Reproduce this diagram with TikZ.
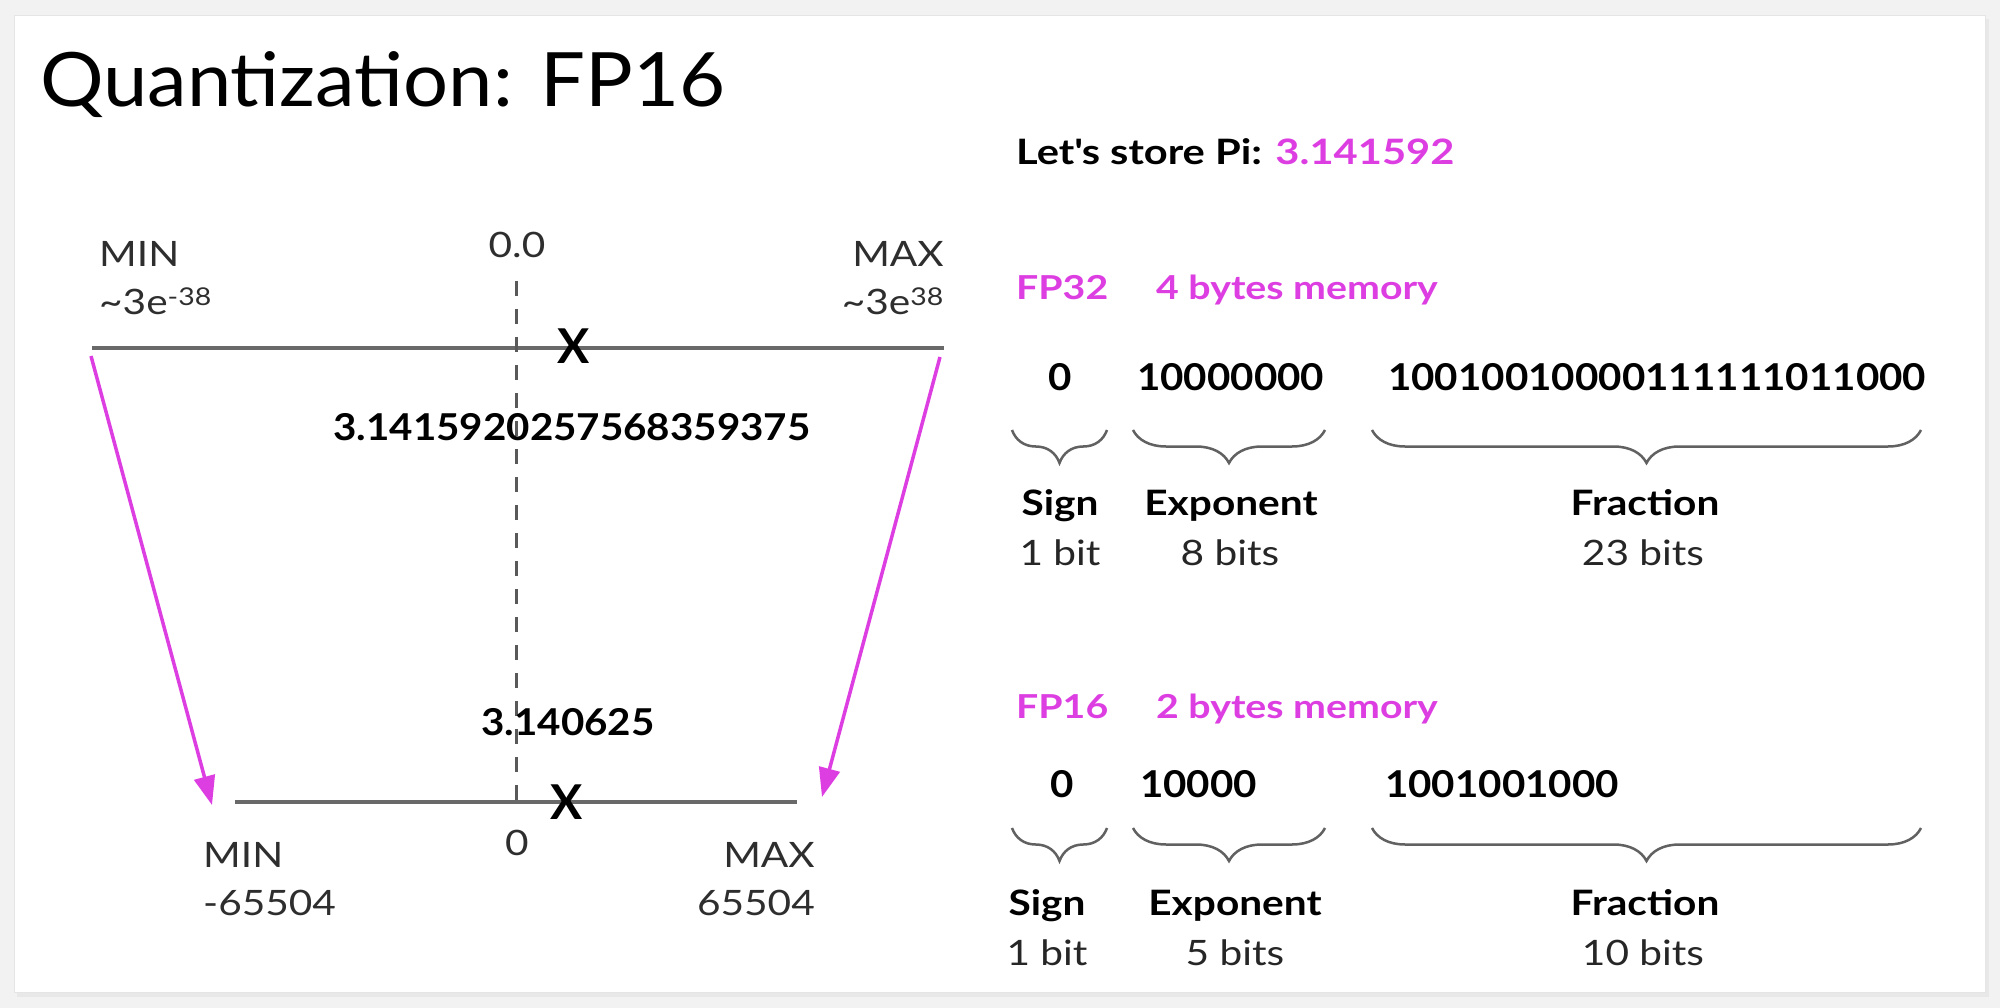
\documentclass[tikz,border=0pt]{standalone}
\usepackage{fontspec}
\setmainfont{Lato}
\newfontfamily\titlefont{Lato}[FakeStretch=1.06]
\newfontfamily\labfont{Lato}[FakeStretch=1.16]
\newfontfamily\valfont{Lato}[FakeStretch=1.09]
\newfontfamily\hdrfont{Lato}[FakeStretch=1.19]
\usetikzlibrary{arrows.meta,positioning,calc,decorations.pathreplacing}
\definecolor{qpink}{RGB}{221,62,226}
\definecolor{qaxis}{RGB}{105,105,105}

\begin{document}
\begin{tikzpicture}[x=1pt, y=-1pt,
    >={Triangle[length=29pt,width=21pt]},
    lab/.style={inner sep=0pt, font=\labfont\fontsize{35}{40}\selectfont, text=black!82},
    val/.style={inner sep=0pt, font=\valfont\fontsize{37}{42}\selectfont\bfseries},
    hdr/.style={inner sep=0pt, font=\hdrfont\fontsize{33}{38}\selectfont\bfseries, text=qpink},
    bits/.style={inner sep=0pt, anchor=base west, font=\valfont\fontsize{37}{42}\selectfont\bfseries},
    fld/.style={inner sep=0pt, anchor=base, font=\labfont\fontsize{35}{40}\selectfont\bfseries},
    wid/.style={inner sep=0pt, anchor=base, font=\labfont\fontsize{35}{40}\selectfont, text=black!85},
    axis/.style={qaxis, line width=4.5pt},
    zero/.style={black!65, line width=3pt, dash pattern=on 15pt off 13pt},
    xmark/.style={inner sep=0pt, font=\fontsize{48}{50}\selectfont\bfseries},
    map/.style={->, qpink, line width=3.5pt},
    brc/.style={decorate, decoration={brace, mirror, amplitude=33pt}, black!62, line width=2.5pt}]
  \useasboundingbox (0,0) rectangle (2000,1008);
  \fill[black!5] (0,0) rectangle (2000,1008);
  \fill[black!9] (17,19) rectangle (1989,997);
  \draw[black!10, fill=white] (14,15) rectangle (1985,992);

  \node[anchor=base west, inner sep=0pt, font=\titlefont\fontsize{75}{80}\selectfont] (title) at (40,107) {Quantization: FP16};

  % FP32 range
  \node[lab, anchor=base west] (min32) at (99,267) {MIN};
  \node[lab, anchor=base west] (min32v) at (99,315) {\textasciitilde3e\textsuperscript{-38}};
  \node[lab, anchor=base east] (max32) at (944,267) {MAX};
  \node[lab, anchor=base east] (max32v) at (944,315) {\textasciitilde3e\textsuperscript{38}};
  \node[lab, anchor=base] (zero32) at (517,258) {0.0};
  \coordinate (tl) at (92,348);
  \coordinate (tr) at (944,348);
  \draw[axis] (tl) -- (tr);

  % FP16 range
  \coordinate (bl) at (235,802);
  \coordinate (br) at (797,802);
  \draw[axis] (bl) -- (br);
  \node[lab, anchor=base west] (min16) at (203,867) {MIN};
  \node[lab, anchor=base west] (min16v) at (203,915) {-65504};
  \node[lab, anchor=base east] (max16) at (815,867) {MAX};
  \node[lab, anchor=base east] (max16v) at (815,915) {65504};
  \node[lab, anchor=base] (zero16) at (517,855) {0};

  \coordinate (dtop) at (516,281);
  \coordinate (dbot) at (516,806);
  \draw[zero] (dtop) -- (dbot);

  \node[xmark] (x32) at (574,346) {X};
  \node[xmark] (x16) at (567,802) {X};
  \node[val, anchor=base] (pi32) at (572,440) {3.1415920257568359375};
  \node[val, anchor=base] (pi16) at (568,735) {3.140625};

  \coordinate (al1) at (91,356);
  \coordinate (al2) at (212,805);
  \coordinate (ar1) at (940,357);
  \coordinate (ar2) at (822,797);
  \draw[map] (al1) -- (al2);
  \draw[map] (ar1) -- (ar2);

  % bit layout
  \node[anchor=base west, inner sep=0pt, font=\hdrfont\fontsize{35}{40}\selectfont\bfseries] (pi) at (1016,165)
    {Let\textquotesingle s store Pi: \textcolor{qpink}{3.141592}};

  \node[hdr, anchor=base west] (h32) at (1016,300) {FP32};
  \node[hdr, anchor=base west] (m32) at (1156,300) {4 bytes memory};
  \node[bits, anchor=base] (s32) at (1060,390) {0};
  \node[bits] (e32) at (1137,390) {10000000};
  \node[bits] (f32) at (1388,390) {10010010000111111011000};
  \draw[brc] (1012,430) -- (1107,430);
  \draw[brc] (1133,430) -- (1325,430);
  \draw[brc] (1372,430) -- (1921,430);
  \node[fld] (sl32) at (1060,515) {Sign};
  \node[wid] (sw32) at (1060,565) {1 bit};
  \node[fld] (el32) at (1231,515) {Exponent};
  \node[wid] (ew32) at (1230,565) {8 bits};
  \node[fld] (fl32) at (1645,515) {Fraction};
  \node[wid] (fw32) at (1643,565) {23 bits};

  \node[hdr, anchor=base west] (h16) at (1016,718) {FP16};
  \node[hdr, anchor=base west] (m16) at (1156,718) {2 bytes memory};
  \node[bits, anchor=base] (s16) at (1062,797) {0};
  \node[bits] (e16) at (1140,797) {10000};
  \node[bits] (f16) at (1385,797) {1001001000};
  \draw[brc] (1012,828) -- (1107,828);
  \draw[brc] (1133,828) -- (1325,828);
  \draw[brc] (1372,828) -- (1921,828);
  \node[fld] (sl16) at (1047,915) {Sign};
  \node[wid] (sw16) at (1047,965) {1 bit};
  \node[fld] (el16) at (1235,915) {Exponent};
  \node[wid] (ew16) at (1235,965) {5 bits};
  \node[fld] (fl16) at (1645,915) {Fraction};
  \node[wid] (fw16) at (1643,965) {10 bits};
\end{tikzpicture}
\end{document}
